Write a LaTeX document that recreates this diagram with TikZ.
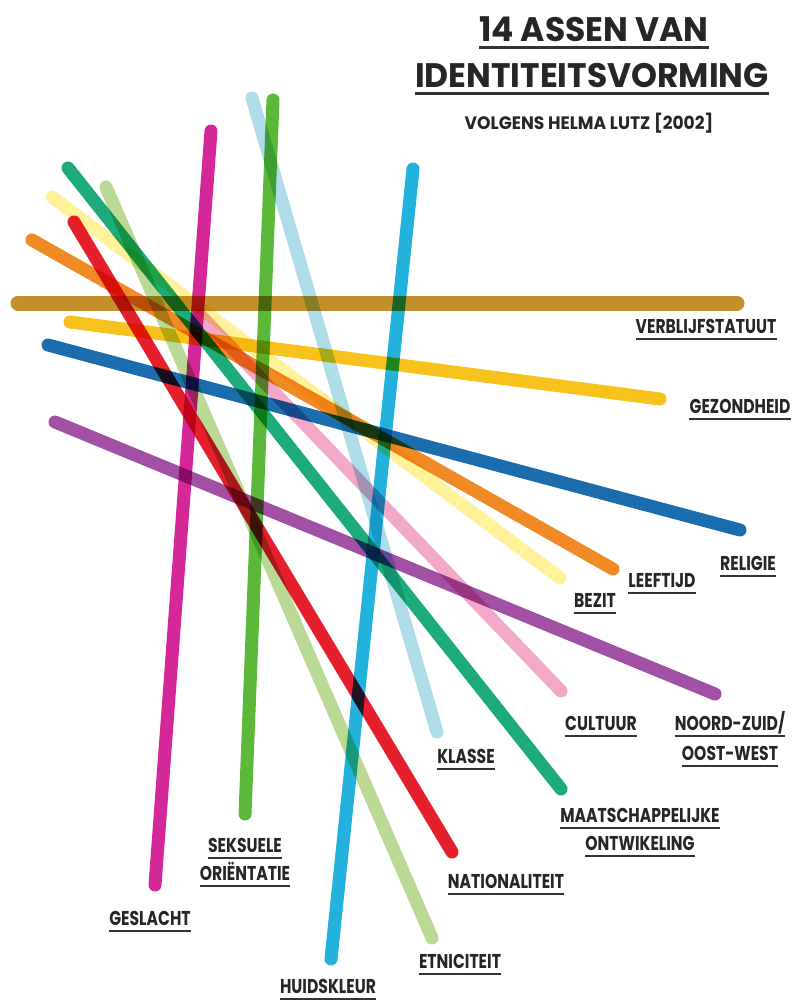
\documentclass[tikz,border=0pt]{standalone}
\usepackage{fontspec}
\usepackage{tikz}
\usetikzlibrary{positioning}

\newfontfamily\titelfont{Poppins}[FakeStretch=0.97]
\newfontfamily\asfont{Poppins}[FakeStretch=0.78]
\newfontfamily\bronfont{Poppins}[FakeStretch=0.95]

\definecolor{goud}{HTML}{C4902C}
\definecolor{geel}{HTML}{F7C21B}
\definecolor{blauw}{HTML}{1B6DAE}
\definecolor{paars}{HTML}{A24FA6}
\definecolor{oranje}{HTML}{F08A24}
\definecolor{lichtgeel}{HTML}{FFF29A}
\definecolor{roze}{HTML}{F2A9C9}
\definecolor{lichtblauw}{HTML}{AEDCE8}
\definecolor{groen}{HTML}{5BB839}
\definecolor{magenta}{HTML}{D4289A}
\definecolor{cyaan}{HTML}{22B2DC}
\definecolor{lichtgroen}{HTML}{B9D995}
\definecolor{rood}{HTML}{E51E2B}
\definecolor{zeegroen}{HTML}{1DAB7C}

\begin{document}
\begin{tikzpicture}[
  x=1pt, y=-1pt,
  aslijn/.style={line width=13pt, line cap=round, blend mode=multiply},
  streep/.style={draw=black!80, line width=1.8pt},
  % every axis label gets a rule under it
  aslabel/.style={font=\asfont\bfseries\fontsize{20}{22}\selectfont, text=black!85, inner sep=0pt, anchor=base,
    append after command={\pgfextra{\draw[streep] ([yshift=-6pt]\tikzlastnode.base west) -- ([yshift=-6pt]\tikzlastnode.base east);}}},
  titel/.style={font=\titelfont\bfseries\fontsize{34}{36}\selectfont, text=black!85, inner sep=0pt, anchor=base,
    append after command={\pgfextra{\draw[streep, line width=3pt] ([yshift=-6pt]\tikzlastnode.base west) -- ([yshift=-6pt]\tikzlastnode.base east);}}},
  ondertitel/.style={font=\bronfont\bfseries\fontsize{18}{20}\selectfont, text=black!85, inner sep=0pt, anchor=base},
]
\useasboundingbox (0,0) rectangle (797,1000);

% Title
\node[titel] (titel1) at (594,42) {14 ASSEN VAN};
\node[titel] (titel2) at (592,88) {IDENTITEITSVORMING};
\node[ondertitel] (bron) at (589,130) {VOLGENS HELMA LUTZ [2002]};

% Axis start and end points
\coordinate (verblijf0) at (18,303);   \coordinate (verblijf1) at (737,303);
\coordinate (gezond0) at (70,322);     \coordinate (gezond1) at (660,399);
\coordinate (religie0) at (48,345);    \coordinate (religie1) at (740,530);
\coordinate (noordzuid0) at (55,422);  \coordinate (noordzuid1) at (715,694);
\coordinate (leeftijd0) at (32,240);   \coordinate (leeftijd1) at (613,569);
\coordinate (bezit0) at (52,197);      \coordinate (bezit1) at (560,578);
\coordinate (cultuur0) at (200,315);   \coordinate (cultuur1) at (561,691);
\coordinate (klasse0) at (252,98);     \coordinate (klasse1) at (437,732);
\coordinate (seksueel0) at (273,100);  \coordinate (seksueel1) at (245,814);
\coordinate (geslacht0) at (211,131);  \coordinate (geslacht1) at (155,885);
\coordinate (huid0) at (413,169);      \coordinate (huid1) at (331,959);
\coordinate (etnisch0) at (106,187);   \coordinate (etnisch1) at (432,938);
\coordinate (natio0) at (74,222);      \coordinate (natio1) at (452,852);
\coordinate (maats0) at (68,168);      \coordinate (maats1) at (561,789);

% Axes
\draw[aslijn, goud, line width=15pt] (verblijf0) -- (verblijf1);
\draw[aslijn, lichtgeel] (bezit0) -- (bezit1);
\draw[aslijn, roze] (cultuur0) -- (cultuur1);
\draw[aslijn, lichtblauw] (klasse0) -- (klasse1);
\draw[aslijn, lichtgroen] (etnisch0) -- (etnisch1);
\draw[aslijn, geel] (gezond0) -- (gezond1);
\draw[aslijn, oranje] (leeftijd0) -- (leeftijd1);
\draw[aslijn, blauw] (religie0) -- (religie1);
\draw[aslijn, paars] (noordzuid0) -- (noordzuid1);
\draw[aslijn, groen] (seksueel0) -- (seksueel1);
\draw[aslijn, magenta] (geslacht0) -- (geslacht1);
\draw[aslijn, cyaan] (huid0) -- (huid1);
\draw[aslijn, zeegroen] (maats0) -- (maats1);
\draw[aslijn, rood] (natio0) -- (natio1);

% Labels
\node[aslabel] (verblijf) at (706,333) {VERBLIJFSTATUUT};
\node[aslabel] (gezond) at (740,413) {GEZONDHEID};
\node[aslabel] (religie) at (748,570) {RELIGIE};
\node[aslabel] (leeftijd) at (662,587) {LEEFTIJD};
\node[aslabel] (bezit) at (595,607) {BEZIT};
\node[aslabel] (cultuur) at (601,730) {CULTUUR};
\node[aslabel] (noordzuid) at (730,730) {NOORD-ZUID/};
\node[aslabel] (oostwest) at ([yshift=-30pt]noordzuid.base) {OOST-WEST};
\node[aslabel] (klasse) at (466,763) {KLASSE};
\node[aslabel] (maats) at (640,822) {MAATSCHAPPELIJKE};
\node[aslabel] (ontw) at ([yshift=-28pt]maats.base) {ONTWIKELING};
\node[aslabel] (seksueel) at (245,852) {SEKSUELE};
\node[aslabel] (orient) at ([yshift=-28pt]seksueel.base) {ORIËNTATIE};
\node[aslabel] (geslacht) at (150,925) {GESLACHT};
\node[aslabel] (natio) at (506,888) {NATIONALITEIT};
\node[aslabel] (etnisch) at (460,968) {ETNICITEIT};
\node[aslabel] (huid) at (328,993) {HUIDSKLEUR};
\end{tikzpicture}
\end{document}
